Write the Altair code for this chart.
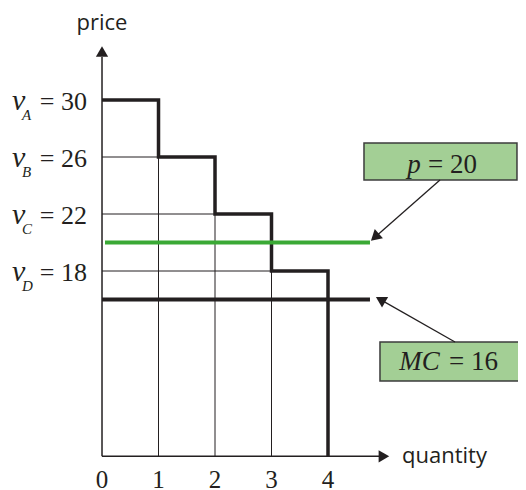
import altair as alt
import pandas as pd

# ---- data ----
quantities = [0, 1, 2, 3, 4]
values = [30, 26, 22, 18]            # v_A .. v_D
buyers = ["A", "B", "C", "D"]
price = 20
mc = 16
axis_floor = 5                        # price level where the quantity axis sits

# annotation geometry (data units: quantity, price)
price_line_q = [0.053, 4.743]
mc_line_q = [0.0, 4.743]
y_axis_top = 33.02
y_head = 33.40
x_axis_end = 4.92
x_head = 4.99
p_box = dict(q1=4.637, q2=7.345, p1=24.39, p2=26.98)
mc_box = dict(q1=4.920, q2=7.60, p1=10.28, p2=13.02)
p_arrow = dict(q1=5.982, p1=24.39, q2=4.830, p2=20.372, angle=228)
mc_arrow = dict(q1=6.248, p1=13.018, q2=4.929, p2=15.993, angle=300)

X = alt.Scale(domain=[-1.664, 7.363], nice=False, zero=False)
Y = alt.Scale(domain=[2.632, 36.456], nice=False, zero=False)
INK = "#231f20"
GREEN = "#3aa935"
BOXFILL = "#a3cf95"
SANS = "Open Sans"
SERIF = "Liberation Serif"


def xq(f="q"):
    return alt.X(f"{f}:Q", scale=X, axis=None)


def yp(f="p"):
    return alt.Y(f"{f}:Q", scale=Y, axis=None)


# step demand curve
sq, sp = [], []
for i, v in enumerate(values):
    sq += [quantities[i], quantities[i + 1]]
    sp += [v, v]
sq.append(quantities[-1]); sp.append(axis_floor)
step_df = pd.DataFrame({"q": sq, "p": sp, "o": range(len(sq))})

# thin grid rectangles under the curve
grid_rows = []
for i in range(1, 4):
    grid_rows.append({"q": 0, "q2": quantities[i], "p": values[i], "p2": values[i]})
    grid_rows.append({"q": quantities[i], "q2": quantities[i], "p": axis_floor, "p2": values[i]})
grid_df = pd.DataFrame(grid_rows)

axes_df = pd.DataFrame([
    {"q": 0, "q2": 0, "p": axis_floor, "p2": y_axis_top},
    {"q": 0, "q2": x_axis_end, "p": axis_floor, "p2": axis_floor},
])

grid = alt.Chart(grid_df).mark_rule(color=INK, strokeWidth=1).encode(
    x=xq(), x2="q2:Q", y=yp(), y2="p2:Q")
axes = alt.Chart(axes_df).mark_rule(color=INK, strokeWidth=1.5).encode(
    x=xq(), x2="q2:Q", y=yp(), y2="p2:Q")
yhead = alt.Chart(pd.DataFrame({"q": [0], "p": [y_head]})).mark_point(
    shape="triangle-up", filled=True, size=150, color=INK, opacity=1).encode(x=xq(), y=yp())
xhead = alt.Chart(pd.DataFrame({"q": [x_head], "p": [axis_floor]})).mark_point(
    shape="triangle-right", filled=True, size=150, color=INK, opacity=1).encode(x=xq(), y=yp())

step = alt.Chart(step_df).mark_line(color=INK, strokeWidth=3.5, strokeJoin="miter").encode(
    x=xq(), y=yp(), order="o:Q")

green = alt.Chart(pd.DataFrame({"q": [price_line_q[0]], "q2": [price_line_q[1]], "p": [price]})).mark_rule(
    color=GREEN, strokeWidth=4).encode(x=xq(), x2="q2:Q", y=yp())
mcline = alt.Chart(pd.DataFrame({"q": [mc_line_q[0]], "q2": [mc_line_q[1]], "p": [mc]})).mark_rule(
    color=INK, strokeWidth=4).encode(x=xq(), x2="q2:Q", y=yp())

boxes_df = pd.DataFrame([
    {"q": p_box["q1"], "q2": p_box["q2"], "p": p_box["p1"], "p2": p_box["p2"]},
    {"q": mc_box["q1"], "q2": mc_box["q2"], "p": mc_box["p1"], "p2": mc_box["p2"]},
])
boxes = alt.Chart(boxes_df).mark_rect(fill=BOXFILL, stroke="#3c3c3c", strokeWidth=1.5).encode(
    x=xq(), x2="q2:Q", y=yp(), y2="p2:Q")

arrows_df = pd.DataFrame([
    {"q": p_arrow["q1"], "q2": p_arrow["q2"], "p": p_arrow["p1"], "p2": p_arrow["p2"]},
    {"q": mc_arrow["q1"], "q2": mc_arrow["q2"], "p": mc_arrow["p1"], "p2": mc_arrow["p2"]},
])
arrow_lines = alt.Chart(arrows_df).mark_rule(color=INK, strokeWidth=1.3).encode(
    x=xq(), x2="q2:Q", y=yp(), y2="p2:Q")
ph = alt.Chart(pd.DataFrame({"q": [p_arrow["q2"]], "p": [p_arrow["p2"]]})).mark_point(
    shape="triangle-up", filled=True, size=150, color=INK, opacity=1, angle=p_arrow["angle"]).encode(x=xq(), y=yp())
mh = alt.Chart(pd.DataFrame({"q": [mc_arrow["q2"]], "p": [mc_arrow["p2"]]})).mark_point(
    shape="triangle-up", filled=True, size=150, color=INK, opacity=1, angle=mc_arrow["angle"]).encode(x=xq(), y=yp())

# texts
price_lbl = alt.Chart(pd.DataFrame({"q": [0], "p": [34.91], "t": ["price"]})).mark_text(
    font=SANS, fontSize=22, color=INK, align="center", baseline="alphabetic").encode(x=xq(), y=yp(), text="t:N")
qty_lbl = alt.Chart(pd.DataFrame({"q": [5.31], "p": [4.526], "t": ["quantity"]})).mark_text(
    font=SANS, fontSize=22, color=INK, align="left", baseline="alphabetic").encode(x=xq(), y=yp(), text="t:N")

ticks_df = pd.DataFrame({"q": quantities, "p": [2.772] * len(quantities), "t": [str(v) for v in quantities]})
ticks = alt.Chart(ticks_df).mark_text(font=SERIF, fontSize=25, color=INK, align="center",
                                      baseline="alphabetic").encode(x=xq(), y=yp(), text="t:N")

yl_df = pd.DataFrame({"p": values, "letter": buyers, "num": ["= " + str(v) for v in values],
                      "qv": [-1.593] * 4, "qs": [-1.416] * 4, "qn": [-0.265] * 4})
yl_v = alt.Chart(yl_df).mark_text(font=SERIF, fontStyle="italic", fontSize=30, color=INK, align="left",
                                  baseline="alphabetic", dy=10, text="v").encode(x=xq("qv"), y=yp())
yl_s = alt.Chart(yl_df).mark_text(font=SERIF, fontStyle="italic", fontSize=15, color=INK, align="left",
                                  baseline="alphabetic", dy=20).encode(x=xq("qs"), y=yp(), text="letter:N")
yl_n = alt.Chart(yl_df).mark_text(font=SERIF, fontSize=26, color=INK, align="right",
                                  baseline="alphabetic", dy=10).encode(x=xq("qn"), y=yp(), text="num:N")

box_it = pd.DataFrame({"q": [5.64, 5.98], "p": [24.877, 11.053], "t": ["p", "MC"]})
box_num = pd.DataFrame({"q": [5.77, 6.142], "p": [24.877, 11.053], "t": ["= " + str(price), "= " + str(mc)]})
bt1 = alt.Chart(box_it).mark_text(font=SERIF, fontStyle="italic", fontSize=27, color=INK, align="right",
                                  baseline="alphabetic").encode(x=xq(), y=yp(), text="t:N")
bt2 = alt.Chart(box_num).mark_text(font=SERIF, fontSize=27, color=INK, align="left",
                                   baseline="alphabetic").encode(x=xq(), y=yp(), text="t:N")

chart = alt.layer(
    grid, axes, yhead, xhead, step, green, mcline, boxes, arrow_lines, ph, mh,
    price_lbl, qty_lbl, ticks, yl_v, yl_s, yl_n, bt1, bt2
).properties(width=510, height=482, padding=0, autosize="none").configure_view(stroke=None)

chart.save("out.html", embed_options={"renderer": "svg", "actions": False})
